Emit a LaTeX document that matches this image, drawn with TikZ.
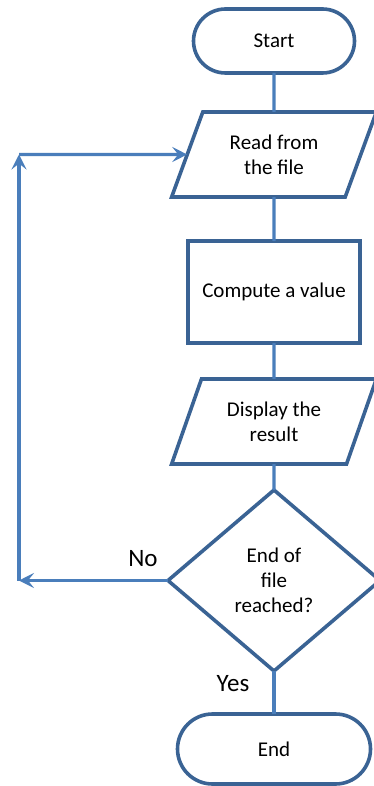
\documentclass[tikz,border=0pt]{standalone}
\usepackage{fontspec}
\setmainfont{Carlito}
\usetikzlibrary{shapes.geometric,shapes.misc,arrows.meta}
\definecolor{bordercol}{HTML}{3A6394}
\definecolor{conncol}{HTML}{4A7EBB}
\begin{document}
\begin{tikzpicture}[x=1pt,y=-1pt,
  box/.style={draw=bordercol,line width=3.6pt,align=center,font=\fontsize{21}{25}\selectfont,inner sep=0pt,outer sep=0pt,text=black},
  term/.style={box,rounded rectangle,minimum width=161pt,minimum height=64pt},
  io/.style={box,trapezium,trapezium left angle=64,trapezium right angle=116,trapezium stretches=true,minimum width=205pt,minimum height=85pt},
  proc/.style={box,rectangle,minimum width=172pt,minimum height=102pt},
  decision/.style={box,diamond,aspect=1.17,minimum width=212pt,minimum height=181pt},
  conn/.style={draw=conncol,line width=3.4pt},
  arr/.style={-{Stealth[length=15pt,width=15pt,inset=6pt]}},
  lbl/.style={font=\fontsize{25}{30}\selectfont,inner sep=0pt,text=black}]
\useasboundingbox (0,0) rectangle (374,786);
\node[term] (start) at (274,41) {Start};
\node[io] (read) at (274,154.5) {Read from\\the file};
\node[proc] (compute) at (274,292) {Compute a value};
\node[io] (display) at (274,421.5) {Display the\\result};
\node[decision] (dec) at (274,580.5) {End of\\file\\reached?};
\node[term,minimum width=193pt,minimum height=70pt] (end) at (274,749) {End};
\coordinate (c1) at (19,580.5);
\coordinate (c2) at (19,154.5);
\draw[conn] (start.south) -- (read.north);
\draw[conn] (read.south) -- (compute.north);
\draw[conn] (compute.south) -- (display.north);
\draw[conn] (display.south) -- (dec.north);
\draw[conn] (dec.south) -- (end.north);
\draw[conn,arr] (dec.west) -- (c1);
\draw[conn,arr] (c1) -- (c2);
\draw[conn,arr] (c2) -- (read.west);
\node[lbl] (nolbl) at (143,559) {No};
\node[lbl] (yeslbl) at (233,684) {Yes};
\end{tikzpicture}
\end{document}
